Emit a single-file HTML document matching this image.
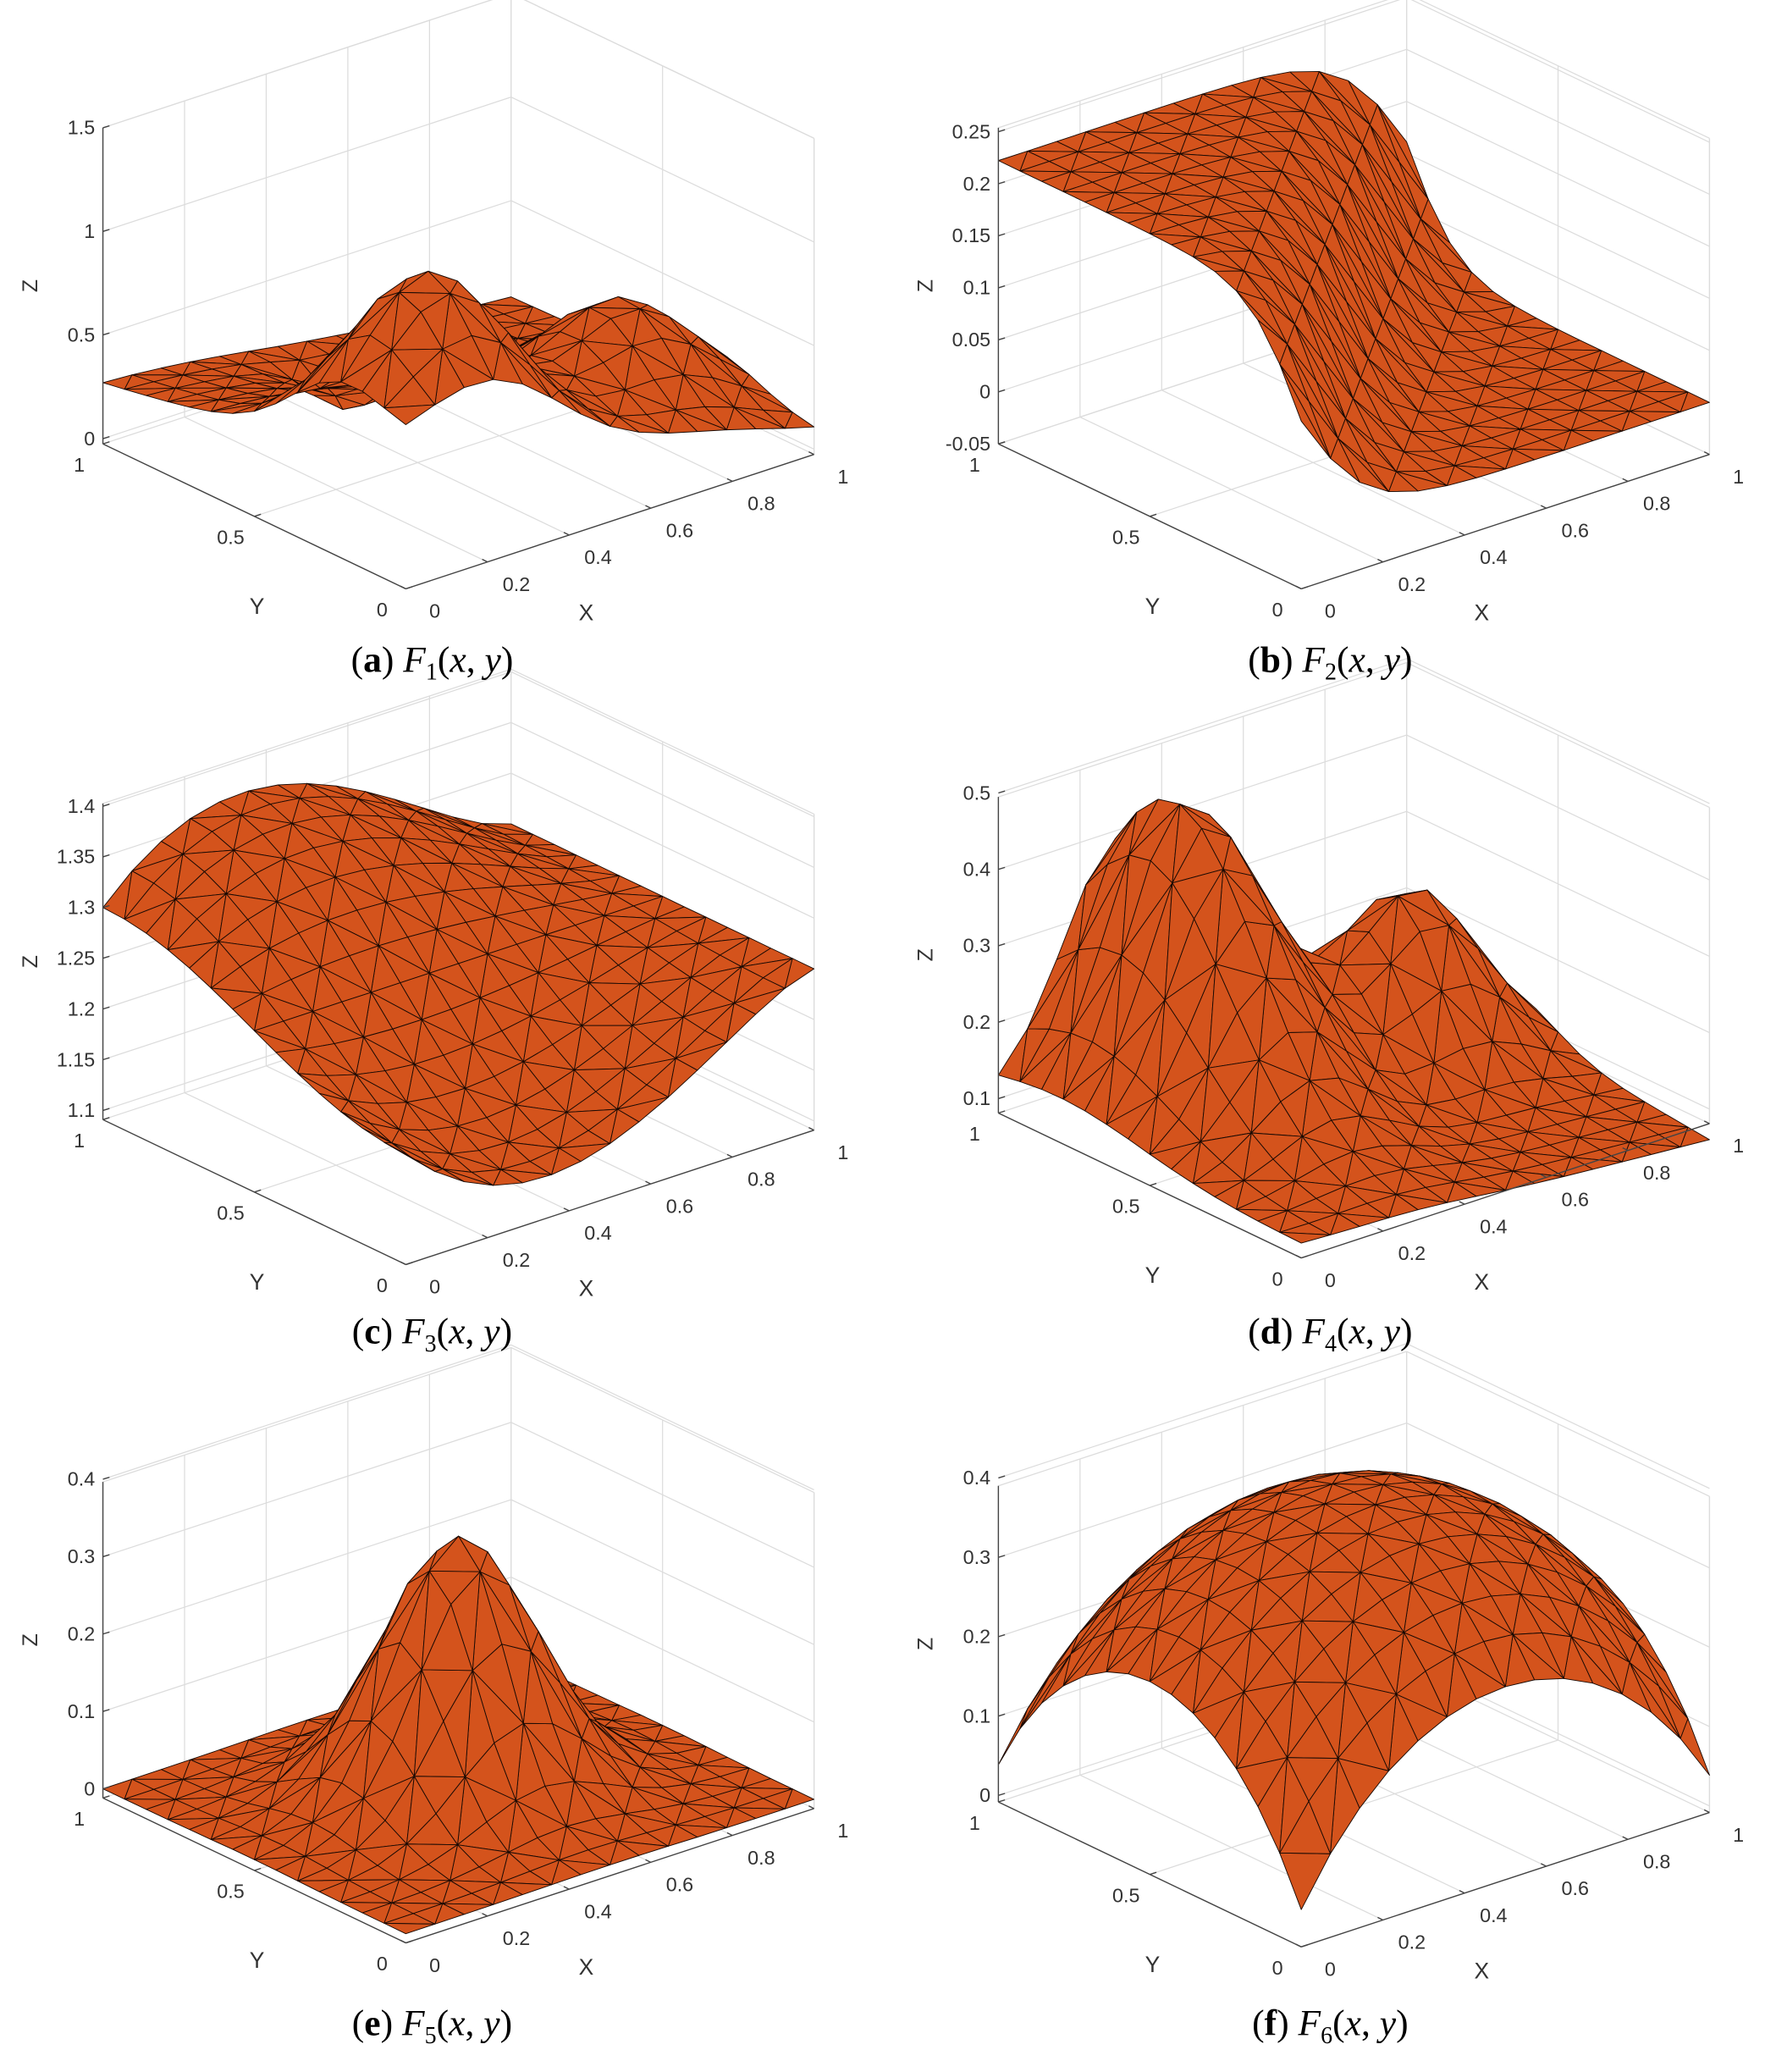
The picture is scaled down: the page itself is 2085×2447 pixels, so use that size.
<!DOCTYPE html>
<html><head><meta charset="utf-8"><style>
html,body{margin:0;padding:0;background:#fff}
svg{display:block}
text{font-family:"Liberation Sans",sans-serif}
.cap{font-family:"Liberation Serif",serif;font-size:28px;fill:#000}
</style></head><body>
<svg id="s" width="2085" height="2447" viewBox="0 0 1340 1573" xmlns="http://www.w3.org/2000/svg">
<text class="cap" x="328" y="510" text-anchor="middle">(<tspan font-weight="bold">a</tspan>) <tspan font-style="italic">F</tspan><tspan font-size="18" dy="6">1</tspan><tspan dy="-6">(</tspan><tspan font-style="italic">x</tspan>, <tspan font-style="italic">y</tspan>)</text>
<text class="cap" x="1010" y="510" text-anchor="middle">(<tspan font-weight="bold">b</tspan>) <tspan font-style="italic">F</tspan><tspan font-size="18" dy="6">2</tspan><tspan dy="-6">(</tspan><tspan font-style="italic">x</tspan>, <tspan font-style="italic">y</tspan>)</text>
<text class="cap" x="328" y="1020" text-anchor="middle">(<tspan font-weight="bold">c</tspan>) <tspan font-style="italic">F</tspan><tspan font-size="18" dy="6">3</tspan><tspan dy="-6">(</tspan><tspan font-style="italic">x</tspan>, <tspan font-style="italic">y</tspan>)</text>
<text class="cap" x="1010" y="1020" text-anchor="middle">(<tspan font-weight="bold">d</tspan>) <tspan font-style="italic">F</tspan><tspan font-size="18" dy="6">4</tspan><tspan dy="-6">(</tspan><tspan font-style="italic">x</tspan>, <tspan font-style="italic">y</tspan>)</text>
<text class="cap" x="328" y="1545" text-anchor="middle">(<tspan font-weight="bold">e</tspan>) <tspan font-style="italic">F</tspan><tspan font-size="18" dy="6">5</tspan><tspan dy="-6">(</tspan><tspan font-style="italic">x</tspan>, <tspan font-style="italic">y</tspan>)</text>
<text class="cap" x="1010" y="1545" text-anchor="middle">(<tspan font-weight="bold">f</tspan>) <tspan font-style="italic">F</tspan><tspan font-size="18" dy="6">6</tspan><tspan dy="-6">(</tspan><tspan font-style="italic">x</tspan>, <tspan font-style="italic">y</tspan>)</text>
</svg>
<script>
var E=Math.exp;
function franke(x,y){return 0.75*E(-((9*x-2)**2+(9*y-2)**2)/4)+0.75*E(-((9*x+1)**2)/49-(9*y+1)/10)+0.5*E(-((9*x-7)**2+(9*y-3)**2)/4)-0.2*E(-((9*x-4)**2)-(9*y-7)**2);}
var P=[
{F:[308,447],t:[[0,333],[1.5,97]],zt:[0,0.5,1,1.5],f:franke},
{F:[988,447],t:[[-0.05,337],[0.25,100]],zt:[-0.05,0,0.05,0.1,0.15,0.2,0.25],f:function(x,y){return (Math.tanh(6*y-6*x)+1)/9;}},
{F:[308,960],t:[[1.1,843],[1.4,612]],zt:[1.1,1.15,1.2,1.25,1.3,1.35,1.4],f:function(x,y){var a=(0.05+0.5*x)*Math.pow(1-x,1.5);return 1.25-a*Math.cos(Math.PI*y);}},
{F:[988,955],t:[[0.1,834],[0.5,602]],zt:[0.1,0.2,0.3,0.4,0.5],f:function(x,y){return 0.1+0.38*E(-((x-0.3)**2)/0.04-((y-0.8)**2)/0.15)+0.22*E(-((x-0.75)**2+(y-0.65)**2)/0.04)-0.04*x*(1-y);}},
{F:[308,1475],t:[[0,1358],[0.4,1123]],zt:[0,0.1,0.2,0.3,0.4],f:function(x,y){return E(-81/4*((x-.5)**2+(y-.5)**2))/3;}},
{F:[988,1478],t:[[0,1363],[0.4,1122]],zt:[0,0.1,0.2,0.3,0.4],f:function(x,y){return Math.sqrt(64-81*((x-.5)**2+(y-.5)**2))/9-0.5;}}
];
var ex=[310,-102],ey=[-230,-110],H=240;
var s=document.getElementById('s'),out='';
function fmt(v){return (Math.round(v*100)/100).toString();}
P.forEach(function(p){
 var k=(p.t[1][1]-p.t[0][1])/(p.t[1][0]-p.t[0][0]);
 var Lb=p.F[1]+ey[1];
 var zb=p.t[0][0]+(Lb-p.t[0][1])/k, zm=zb+(-H)/k;
 function pr(x,y,z){return [p.F[0]+x*ex[0]+y*ey[0], p.F[1]+x*ex[1]+y*ey[1]+k*(z-zb)];}
 function L(a,b,c,w){return '<line x1="'+a[0].toFixed(1)+'" y1="'+a[1].toFixed(1)+'" x2="'+b[0].toFixed(1)+'" y2="'+b[1].toFixed(1)+'" stroke="'+c+'" stroke-width="'+w+'"/>';}
 var g='#dcdcdc',i,t;
 var xt=[0,0.2,0.4,0.6,0.8,1],yt=[0,0.5,1];
 xt.forEach(function(t){out+=L(pr(t,1,zb),pr(t,1,zm),g,0.8);out+=L(pr(t,0,zb),pr(t,1,zb),g,0.8);});
 yt.forEach(function(t){out+=L(pr(1,t,zb),pr(1,t,zm),g,0.8);out+=L(pr(0,t,zb),pr(1,t,zb),g,0.8);});
 p.zt.forEach(function(z){out+=L(pr(0,1,z),pr(1,1,z),g,0.8);out+=L(pr(1,1,z),pr(1,0,z),g,0.8);});
 out+=L(pr(0,1,zm),pr(1,1,zm),g,0.8);out+=L(pr(1,1,zm),pr(1,0,zm),g,0.8);
 out+=L(pr(1,0,zb),pr(1,0,zm),g,0.8);
 var n=14,tr=[];
 function V(i,j){var x=i/n,y=j/n;return [x,y,p.f(x,y)];}
 for(i=0;i<n;i++)for(var j=0;j<n;j++){
  var a=V(i,j),b=V(i+1,j),c=V(i+1,j+1),d=V(i,j+1);
  if((i+j)%2){tr.push([a,b,c]);tr.push([a,c,d]);}else{tr.push([a,b,d]);tr.push([b,c,d]);}
 }
 tr.forEach(function(T){var dx=0;T.forEach(function(v){dx+=v[0]+v[1]-0.6*(v[2]-zb)/(zm-zb);});T.d=dx;});
 tr.sort(function(A,B){return B.d-A.d;});
 tr.forEach(function(T){var s2='';T.forEach(function(v){var q=pr(v[0],v[1],v[2]);s2+=q[0].toFixed(1)+','+q[1].toFixed(1)+' ';});
  out+='<polygon points="'+s2+'" fill="#d4531c" stroke="#1a0a04" stroke-width="0.6" stroke-linejoin="round"/>';});
 var ac='#444';
 out+=L(pr(0,1,zb),pr(0,1,zm),ac,0.9);
 out+=L(pr(0,0,zb),pr(0,1,zb),ac,0.9);
 out+=L(pr(0,0,zb),pr(1,0,zb),ac,0.9);
 var ax=pr(0,1,zb)[0],ts='font-size="15" fill="#333"';
 p.zt.forEach(function(z){var q=pr(0,1,z);out+=L(q,[q[0]+5,q[1]-1.5],ac,0.9);
  out+='<text x="'+(q[0]-6)+'" y="'+(q[1]+5)+'" text-anchor="end" '+ts+'>'+fmt(z)+'</text>';});
 var zc=(pr(0,1,zb)[1]+pr(0,1,zm)[1])/2;
 out+='<text x="'+(ax-50)+'" y="'+zc+'" transform="rotate(-90 '+(ax-50)+' '+zc+')" text-anchor="middle" font-size="16" fill="#333">Z</text>';
 yt.forEach(function(t){var q=pr(0,t,zb);out+=L(q,[q[0]+5,q[1]-1.6],ac,0.9);
  out+='<text x="'+(q[0]-18)+'" y="'+(q[1]+21)+'" text-anchor="middle" '+ts+'>'+fmt(t)+'</text>';});
 xt.forEach(function(t){var q=pr(t,0,zb);out+=L(q,[q[0]-4,q[1]-2],ac,0.9);
  out+='<text x="'+(q[0]+22)+'" y="'+(q[1]+22)+'" text-anchor="middle" '+ts+'>'+fmt(t)+'</text>';});
 out+='<text x="'+(p.F[0]-113)+'" y="'+(p.F[1]+19)+'" text-anchor="middle" font-size="17" fill="#333">Y</text>';
 out+='<text x="'+(p.F[0]+137)+'" y="'+(p.F[1]+24)+'" text-anchor="middle" font-size="17" fill="#333">X</text>';
});
s.insertAdjacentHTML('afterbegin',out);
</script>
</body></html>
